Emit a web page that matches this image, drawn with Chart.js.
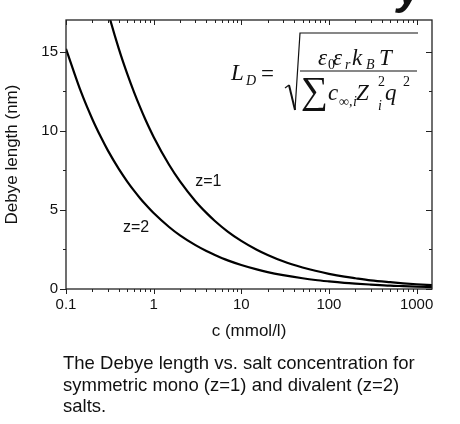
<!DOCTYPE html>
<html>
<head>
<meta charset="utf-8">
<script src="https://cdn.jsdelivr.net/npm/chart.js@4.4.0/dist/chart.umd.min.js"></script>
<style>
  body { margin: 0; background: #fff; }
  #wrap { position: relative; width: 460px; height: 424px; overflow: hidden; }
  #chart { position: absolute; left: 0; top: 0; }
  #caption {
    position: absolute; left: 63px; top: 352px;
    font: 18.5px/21.5px "Liberation Sans", Arial, sans-serif;
    color: #111; white-space: nowrap;
  }
</style>
</head>
<body>
<div id="wrap">
  <canvas id="chart" width="460" height="424"></canvas>
  <div id="caption">The Debye length vs. salt concentration for<br>symmetric mono (z=1) and divalent (z=2)<br>salts.</div>
</div>
<script>
// Debye length vs. salt concentration
const concentrations = [0.1, 0.15, 0.2, 0.25, 0.3, 0.4, 0.5, 0.6, 0.7, 0.8, 1, 1.5, 2, 3, 4, 5, 7,
  10, 15, 20, 30, 50, 70, 100, 150, 200, 300, 500, 700, 1000, 1500];
// mono-valent salt (z=1), nm -- off the top of the plot below 0.25 mmol/l
const debyeZ1 = [null, null, null, 19.22, 17.55, 15.19, 13.59, 12.41, 11.49, 10.74, 9.61, 7.85, 6.8, 5.55,
  4.81, 4.3, 3.63, 3.04, 2.48, 2.15, 1.75, 1.36, 1.15, 0.96, 0.78, 0.68, 0.55, 0.43, 0.36, 0.3, 0.25];
// di-valent salt (z=2), nm
const debyeZ2 = [15.18, 12.39, 10.73, 9.6, 8.76, 7.59, 6.79, 6.2, 5.74, 5.37, 4.8, 3.92, 3.39, 2.77,
  2.4, 2.15, 1.81, 1.52, 1.24, 1.07, 0.88, 0.68, 0.57, 0.48, 0.39, 0.34, 0.28, 0.21, 0.18, 0.15, 0.12];

const curveNames = ["z=1", "z=2"];
const curveNameSpots = [[4.2, 6.8], [0.63, 3.9]]; // [c, nm] where each name sits
const xTickLabels = [0.1, 1, 10, 100, 1000];
const yTickLabels = [0, 5, 10, 15];

const SANS = '"Liberation Sans", Arial, sans-serif';
const SERIF = '"Liberation Serif", "Times New Roman", serif';

function toPoints(values) {
  return concentrations
    .map((c, i) => ({ x: c, y: values[i] }))
    .filter((p) => p.y !== null);
}

function isLabelled(list, v) {
  return list.some((t) => Math.abs(t - v) < 1e-9);
}

// frame with mirrored ticks, curve names and the formula
const decorations = {
  id: "decorations",
  afterDatasetsDraw(chart) {
    const { ctx, chartArea: a, scales } = chart;
    const x = scales.x;
    const y = scales.y;

    ctx.save();
    ctx.strokeStyle = "#222";
    ctx.lineWidth = 1.3;
    ctx.strokeRect(a.left, a.top, a.right - a.left, a.bottom - a.top);

    const line = (x1, y1, x2, y2) => {
      ctx.beginPath();
      ctx.moveTo(x1, y1);
      ctx.lineTo(x2, y2);
      ctx.stroke();
    };

    ctx.lineWidth = 1;
    // x: outward at the bottom, inward at the top
    for (let e = -1; e <= 3; e++) {
      for (let k = 1; k <= 9; k++) {
        const v = k * Math.pow(10, e);
        if (v > x.max) break;
        const px = Math.round(x.getPixelForValue(v)) + 0.5;
        const len = k === 1 ? 5 : 3;
        line(px, a.bottom, px, a.bottom + len);
        line(px, a.top, px, a.top + len);
      }
    }
    // y: outward on the left, inward on the right
    for (let v = 0; v <= y.max; v += 2.5) {
      const py = Math.round(y.getPixelForValue(v)) + 0.5;
      const len = v % 5 === 0 ? 6 : 3;
      line(a.left - len, py, a.left, py);
      line(a.right - len, py, a.right, py);
    }

    // curve names
    ctx.fillStyle = "#111";
    ctx.font = "16px " + SANS;
    ctx.textAlign = "center";
    ctx.textBaseline = "middle";
    curveNames.forEach((name, i) => {
      const [c, nm] = curveNameSpots[i];
      ctx.fillText(name, x.getPixelForValue(c), y.getPixelForValue(nm));
    });

    // L_D = sqrt( e0 er kB T / sum c_inf,i Z_i^2 q^2 )
    ctx.textAlign = "left";
    ctx.textBaseline = "alphabetic";
    const put = (t, px, py, font) => {
      ctx.font = font;
      ctx.fillText(t, px, py);
    };
    const big = "italic 23px " + SERIF;
    const small = "italic 14px " + SERIF;
    const smallUp = "14px " + SERIF;

    put("L", 231, 80, big);
    put("D", 246, 85, small);
    put("=", 261, 81, "23px " + SERIF);

    ctx.strokeStyle = "#111";
    ctx.lineWidth = 1.2;
    ctx.beginPath();
    ctx.moveTo(285, 88);
    ctx.lineTo(289, 85);
    ctx.stroke();
    ctx.lineWidth = 2;
    ctx.beginPath();
    ctx.moveTo(289, 85);
    ctx.lineTo(295, 110);
    ctx.stroke();
    ctx.lineWidth = 1.2;
    ctx.beginPath();
    ctx.moveTo(295, 110);
    ctx.lineTo(300, 33);
    ctx.lineTo(418, 33);
    ctx.stroke();
    line(300, 71, 417, 71);

    put("\u03b5", 318, 65, big);
    put("0", 328, 69, smallUp);
    put("\u03b5", 333, 65, big);
    put("r", 345, 69, small);
    put("k", 352, 65, big);
    put("B", 366, 69, small);
    put("T", 379, 65, big);

    put("\u2211", 301, 103, "38px " + SERIF);
    put("c", 328, 100, big);
    put("\u221e", 339, 106, smallUp);
    put(",", 349, 106, smallUp);
    put("i", 353, 106, small);
    put("Z", 356, 100, big);
    put("2", 378, 86, smallUp);
    put("i", 378, 110, small);
    put("q", 385, 100, big);
    put("2", 403, 86, smallUp);

    // tail of the slide heading, cut off at the top edge
    put("y", 397, 4, "italic bold 44px " + SANS);

    ctx.restore();
  },
};

new Chart(document.getElementById("chart"), {
  type: "line",
  data: {
    datasets: [
      { label: curveNames[0], data: toPoints(debyeZ1) },
      { label: curveNames[1], data: toPoints(debyeZ2) },
    ],
  },
  options: {
    responsive: false,
    animation: false,
    devicePixelRatio: 1,
    layout: { padding: { left: 0, right: 28, top: 20, bottom: 77 } },
    plugins: { legend: { display: false }, tooltip: { enabled: false } },
    elements: {
      point: { radius: 0 },
      line: { borderWidth: 2.2, borderColor: "#000", cubicInterpolationMode: "monotone" },
    },
    scales: {
      x: {
        type: "logarithmic",
        min: 0.1,
        max: 1500,
        grid: { display: false, drawTicks: false },
        border: { display: false },
        afterFit: (s) => { s.height = 58; },
        ticks: {
          autoSkip: false,
          maxRotation: 0,
          padding: 7,
          color: "#111",
          font: { family: SANS, size: 15 },
          callback: (v) => (isLabelled(xTickLabels, v) ? String(v) : ""),
        },
        title: {
          display: true,
          text: "c (mmol/l)",
          color: "#111",
          font: { family: SANS, size: 17 },
          padding: { top: 0, bottom: 5 },
        },
      },
      y: {
        min: 0,
        max: 17,
        grid: { display: false, drawTicks: false },
        border: { display: false },
        afterFit: (s) => { s.width = 66; },
        ticks: {
          stepSize: 2.5,
          padding: 8,
          color: "#111",
          font: { family: SANS, size: 15 },
          callback: (v) => (isLabelled(yTickLabels, v) ? String(v) : ""),
        },
        title: {
          display: true,
          text: "Debye length (nm)",
          color: "#111",
          font: { family: SANS, size: 17 },
          padding: { top: 2, bottom: 0 },
        },
      },
    },
  },
  plugins: [decorations],
});
</script>
</body>
</html>
